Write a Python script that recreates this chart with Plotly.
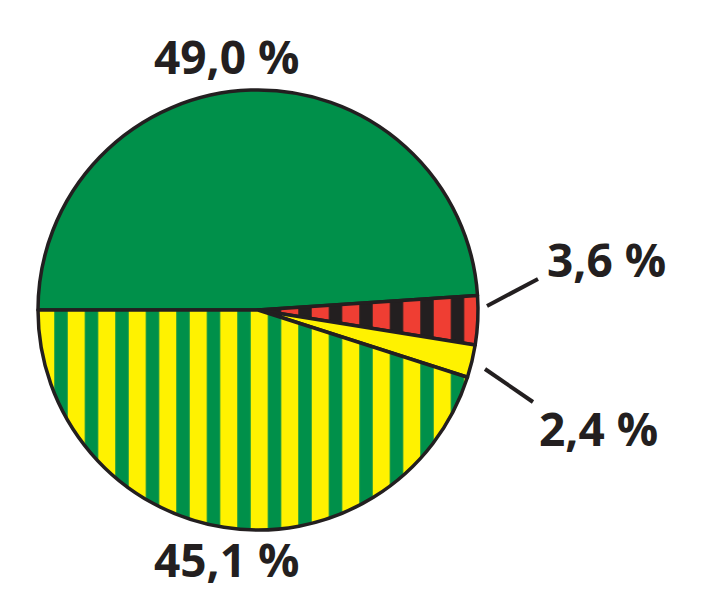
import plotly.graph_objects as go

labels = ["49,0 %", "3,6 %", "2,4 %", "45,1 %"]
values = [49.0, 3.6, 2.4, 45.1]
base_colors = ["#00904a", "#231f20", "#fff200", "#00904a"]
stripe_colors = ["#00904a", "#ef3e33", "#fff200", "#fff200"]
stripe_shapes = ["", "|", "", "|"]

W, H = 705, 592
ink = "#231f20"

fig = go.Figure(go.Pie(
    labels=labels,
    values=values,
    sort=False,
    direction="clockwise",
    rotation=270,
    textinfo="none",
    hoverinfo="none",
    showlegend=False,
    marker=dict(
        colors=base_colors,
        line=dict(color=ink, width=3.5),
        pattern=dict(shape=stripe_shapes, fgcolor=stripe_colors, bgcolor=base_colors,
                     size=30.5, solidity=0.56, fillmode="replace"),
    ),
    domain=dict(x=[(258 - 220) / W, (258 + 220) / W],
                y=[1 - (310 + 220) / H, 1 - (310 - 220) / H]),
))

font = dict(family="Open Sans", size=46, color=ink, weight="bold")
label_pos = {
    "49,0 %": (226, 56, "middle"),
    "3,6 %": (606, 259, "middle"),
    "2,4 %": (598, 428, "middle"),
    "45,1 %": (226, 592, "bottom"),
}
annotations = []
for lab in labels:
    px, py, anc = label_pos[lab]
    annotations.append(dict(text=lab, x=px / W, y=1 - py / H, xref="paper", yref="paper",
                             showarrow=False, font=font, xanchor="center", yanchor=anc))

leaders = [((487, 306), (538, 279)), ((485, 369), (533, 402))]
shapes = [dict(type="line", xref="paper", yref="paper",
               x0=a[0] / W, y0=1 - a[1] / H, x1=b[0] / W, y1=1 - b[1] / H,
               line=dict(color=ink, width=4)) for a, b in leaders]

fig.update_layout(width=W, height=H, margin=dict(l=0, r=0, t=0, b=0),
                  paper_bgcolor="white", plot_bgcolor="white",
                  annotations=annotations, shapes=shapes)
fig.write_html("out.html")
